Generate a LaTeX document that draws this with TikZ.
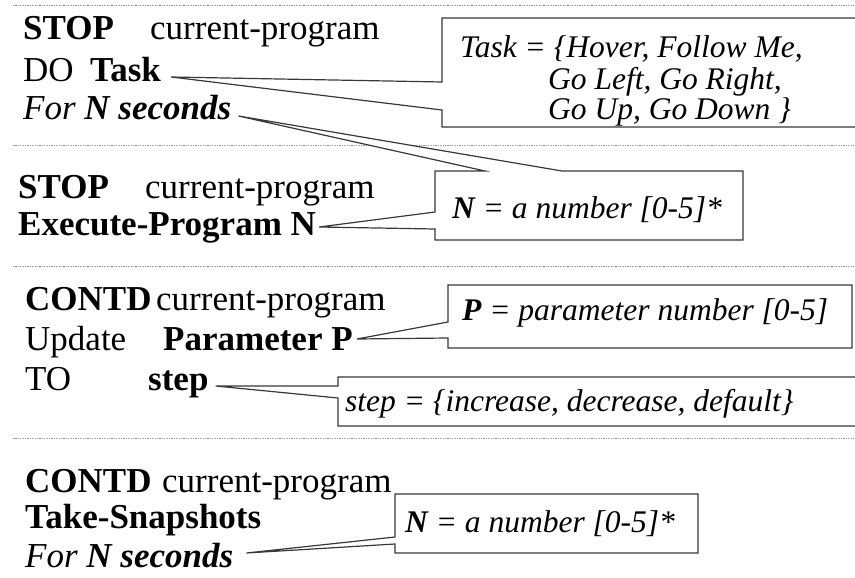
\documentclass[tikz,border=0pt]{standalone}
\usepackage{fontspec}
\setmainfont{Liberation Serif}
\usetikzlibrary{calc}
\begin{document}
\begin{tikzpicture}[x=1pt,y=-1pt,
  main/.style={anchor=base west,inner sep=0pt,font=\fontsize{35}{40}\selectfont,text height=24pt,text depth=8pt},
  boxtxt/.style={anchor=base west,inner sep=0pt,font=\fontsize{31.5}{36}\selectfont\itshape,text height=21pt,text depth=6pt},
  callout/.style={draw=black!78,line width=1.2pt,fill=white,line join=miter},
  sepline/.style={draw=black!45,line width=0.8pt,dash pattern=on 1.2pt off 1.2pt}]
\useasboundingbox (0,0) rectangle (855,578);
\clip (0,0) rectangle (855,578);
% separators
\coordinate (s1a) at (13,5);   \coordinate (s1b) at (855,5);
\coordinate (s2a) at (13,145); \coordinate (s2b) at (855,145);
\coordinate (s3a) at (13,266); \coordinate (s3b) at (855,266);
\coordinate (s4a) at (13,438); \coordinate (s4b) at (855,438);
\draw[sepline] (s1a) -- (s1b);
\draw[sepline] (s2a) -- (s2b);
\draw[sepline] (s3a) -- (s3b);
\draw[sepline] (s4a) -- (s4b);
% main text
\node[main] (stop1) at (23,40) {\textbf{STOP}};
\node[main] (cur1) at (150,40) {current-program};
\node[main] (do1) at (23,82) {DO};
\node[main] (task) at (90,82) {\textbf{Task}};
\node[main] (for1) at (23,120) {\textit{For \textbf{N seconds}}};
\node[main] (stop2) at (18,198) {\textbf{STOP}};
\node[main] (cur2) at (145,198) {current-program};
\node[main] (exec) at (18,235) {\textbf{Execute-Program N}};
\node[main] (contd1) at (25,310) {\textbf{CONTD}};
\node[main] (cur3) at (156,310) {current-program};
\node[main] (upd) at (25,350) {Update};
\node[main] (param) at (163,350) {\textbf{Parameter P}};
\node[main] (to) at (25,390) {TO};
\node[main] (stepw) at (148,390) {\textbf{step}};
\node[main] (contd2) at (25,492) {\textbf{CONTD}};
\node[main] (cur4) at (162,492) {current-program};
\node[main] (snap) at (25,528) {\textbf{Take-Snapshots}};
\node[main] (for2) at (25,567) {\textit{For \textbf{N seconds}}};
% tips
\coordinate (tT) at ($(task.base east)+(10,-5)$);
\coordinate (tF1) at ($(for1.base east)+(7,-4)$);
\coordinate (tE) at ($(exec.base east)+(3,-8)$);
\coordinate (tP) at ($(param.base east)+(4,-11)$);
\coordinate (tS) at ($(stepw.base east)+(7,-4)$);
\coordinate (tF2) at ($(for2.base east)+(13,-14)$);
% callouts
\path[callout] (442,18) -- (870,18) -- (870,127) -- (442,127) -- (442,110) -- (tT) -- (442,82) -- cycle;
\path[callout] (435,171) -- (485,171) -- (tF1) -- (562,171) -- (743,171) -- (743,240) -- (435,240) -- (435,229) -- (tE) -- (435,212) -- cycle;
\path[callout] (448,285) -- (852,285) -- (852,348) -- (448,348) -- (448,338) -- (tP) -- (448,322) -- cycle;
\path[callout] (338,377) -- (870,377) -- (870,426) -- (338,426) -- (338,398) -- (tS) -- (338,386) -- cycle;
\path[callout] (395,494) -- (698,494) -- (698,553) -- (395,553) -- (395,544) -- (tF2) -- (395,537) -- cycle;
% box texts
\node[boxtxt] (tk1) at (460,58) {Task = \{Hover, Follow Me,};
\node[boxtxt] (tk2) at (548,89) {Go Left, Go Right,};
\node[boxtxt] (tk3) at (548,120) {Go Up, Go Down \}};
\node[boxtxt] (n1) at (452,218) {\textbf{N} = a number [0-5]*};
\node[boxtxt] (p1) at (462,320) {\textbf{P} = parameter number [0-5]};
\node[boxtxt] (st1) at (345,411) {step = \{increase, decrease, default\}};
\node[boxtxt] (n2) at (405,532) {\textbf{N} = a number [0-5]*};
\end{tikzpicture}
\end{document}
